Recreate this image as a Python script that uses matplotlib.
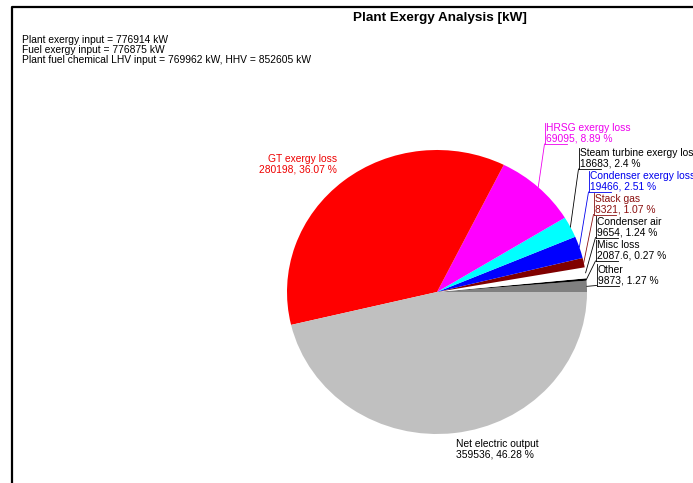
import numpy as np
import matplotlib
matplotlib.use("Agg")
import matplotlib.pyplot as plt

plt.rcParams['font.family'] = ['Liberation Sans', 'DejaVu Sans']

# slices, counter-clockwise from 3 o'clock
names = ["Other", "Misc loss", "Condenser air", "Stack gas", "Condenser exergy loss",
         "Steam turbine exergy loss", "HRSG exergy loss", "GT exergy loss", "Net electric output"]
values = [9873, 2087.6, 9654, 8321, 19466, 18683, 69095, 280198, 359536]
percents = [1.27, 0.27, 1.24, 1.07, 2.51, 2.4, 8.89, 36.07, 46.28]
colors = ["#808080", "#000000", "#ffffff", "#800000", "#0000ff", "#00ffff", "#ff00ff", "#ff0000", "#c0c0c0"]
text_colors = ["black", "black", "black", "#8b1010", "#0000ee", "black", "#ee00ee", "#ee0000", "black"]

header = ["Plant exergy input = 776914 kW",
          "Fuel exergy input = 776875 kW",
          "Plant fuel chemical LHV input = 769962 kW, HHV = 852605 kW"]
title = "Plant Exergy Analysis [kW]"

W, H = 693, 483
fig = plt.figure(figsize=(W / 100, H / 100), dpi=100)

# pie axes (slightly squashed ellipse like the original)
cx, cy, rx, ry = 437, 292, 150, 142
ax = fig.add_axes([(cx - rx) / W, (H - cy - ry) / H, 2 * rx / W, 2 * ry / H])
wedges, _ = ax.pie(values, colors=colors, startangle=0, counterclock=True,
                   wedgeprops=dict(linewidth=0))
ax.set_aspect('auto')
ax.set_xlim(-1, 1)
ax.set_ylim(-1, 1)
ax.axis('off')

# overlay in pixel coords for text, leaders and frame
ov = fig.add_axes([0, 0, 1, 1], facecolor='none')
ov.set_xlim(0, W)
ov.set_ylim(H, 0)
ov.axis('off')

ov.plot([12, 12, W + 5], [H + 5, 7, 7], color='black', lw=1.6, solid_capstyle='butt')

ov.text(440, 18.5, title, ha='center', va='center', fontsize=9.7, fontweight='bold')
for i, line in enumerate(header):
    ov.text(22, 40 + i * 10, line, ha='left', va='center', fontsize=7.4)

# label positions (left x, center y) for the bracketed labels on the right
label_pos = {
    "HRSG exergy loss": (546, 133.5),
    "Steam turbine exergy loss": (580, 158.5),
    "Condenser exergy loss": (590, 181.5),
    "Stack gas": (595, 204),
    "Condenser air": (597, 227),
    "Misc loss": (597, 250.5),
    "Other": (598, 275),
}

fs = 7.4
to_px = ax.transData + ov.transData.inverted()
for i, nm in enumerate(names):
    txt = f"{nm}\n{values[i]:g}, {percents[i]:g} %"
    col = text_colors[i]
    if nm in label_pos:
        x, y = label_pos[nm]
        ov.text(x, y, txt, ha='left', va='center', fontsize=fs, color=col, linespacing=1.1)
        w = wedges[i]
        mid = np.radians((w.theta1 + w.theta2) / 2)
        ex, ey = to_px.transform((np.cos(mid), np.sin(mid)))
        bx, by = x - 1.5, y + 10.5
        ov.plot([ex, bx], [ey, by], color=col, lw=0.6)
        ov.plot([bx, bx], [by, y - 11], color=col, lw=0.6)
        ov.plot([bx, bx + 22], [by, by], color=col, lw=0.6)
    elif nm == "GT exergy loss":
        ov.text(337, 164.5, txt, ha='right', va='center', fontsize=fs, color=col, linespacing=1.1)
    else:
        ov.text(456, 449.5, txt, ha='left', va='center', fontsize=fs, color=col, linespacing=1.1)

fig.savefig("out.png", dpi=100)
